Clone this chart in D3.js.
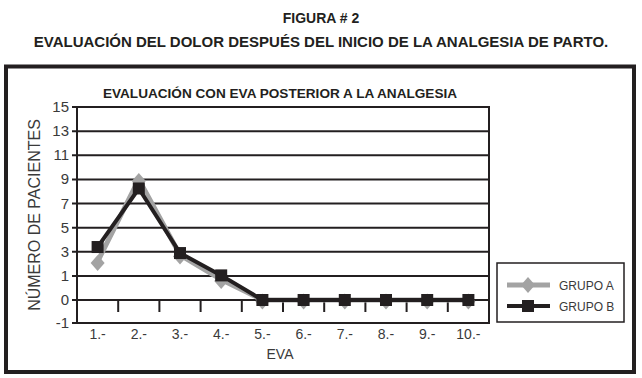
<!DOCTYPE html>
<html><head><meta charset="utf-8">
<script src="https://cdn.jsdelivr.net/npm/d3@7"></script>
<style>body{margin:0;background:#fff}svg{display:block;font-family:"Liberation Sans",Arial,sans-serif}</style>
</head><body><svg id="c" width="642" height="378"></svg>
<script>
const categories = ["1.-","2.-","3.-","4.-","5.-","6.-","7.-","8.-","9.-","10.-"];
const grupoA = [2.2, 9, 2.75, 0.85, 0, 0, 0, 0, 0, 0];
const grupoB = [3.4, 8.25, 2.9, 1.05, 0, 0, 0, 0, 0, 0];
const yTicks = [15, 13, 11, 9, 7, 5, 3, 1, 0, -1];
const seriesNames = ["GRUPO A", "GRUPO B"];

const svg = d3.select("#c");
const ink = "#231f20", gray = "#a3a3a3";
const L = 77, R = 489, T = 107, B = 323;

svg.append("text").attr("x", 321).attr("y", 23).attr("text-anchor","middle")
  .attr("font-weight","bold").attr("font-size",14).attr("fill",ink).text("FIGURA # 2");
svg.append("text").attr("x", 321).attr("y", 47).attr("text-anchor","middle")
  .attr("font-weight","bold").attr("font-size",15).attr("fill",ink)
  .text("EVALUACIÓN DEL DOLOR DESPUÉS DEL INICIO DE LA ANALGESIA DE PARTO.");

svg.append("rect").attr("x",6).attr("y",66.5).attr("width",628).attr("height",305.5)
  .attr("fill","none").attr("stroke",ink).attr("stroke-width",4);

svg.append("text").attr("x", 280).attr("y", 98).attr("text-anchor","middle")
  .attr("font-weight","bold").attr("font-size",13.6).attr("fill",ink)
  .text("EVALUACIÓN CON EVA POSTERIOR A LA ANALGESIA");

const x = d3.scaleBand().domain(categories).range([L, R]);
const y = d3.scaleLinear().domain([-1, 0, 1, 15]).range([B, 300, 276, T]);

// gridlines
svg.append("g").selectAll("line").data(yTicks).join("line")
  .attr("x1", L - 5).attr("x2", R).attr("y1", d => y(d)).attr("y2", d => y(d))
  .attr("stroke", ink).attr("stroke-width", 2);
// axes frame
svg.append("line").attr("x1",L).attr("x2",L).attr("y1",T-1).attr("y2",B+1).attr("stroke",ink).attr("stroke-width",2);
svg.append("line").attr("x1",R).attr("x2",R).attr("y1",T-1).attr("y2",B+1).attr("stroke",ink).attr("stroke-width",2);
// y labels
svg.append("g").selectAll("text").data(yTicks).join("text")
  .attr("x", L - 8).attr("y", d => y(d) + 5).attr("text-anchor","end")
  .attr("font-size",15).attr("fill","#3a3a3a").text(d => d);
// x tick marks between categories
svg.append("g").selectAll("line").data(categories.slice(1)).join("line")
  .attr("x1", d => x(d)).attr("x2", d => x(d)).attr("y1", y(0)).attr("y2", y(0) + 12)
  .attr("stroke", ink).attr("stroke-width", 2);
// x labels
svg.append("g").selectAll("text").data(categories).join("text")
  .attr("x", d => x(d) + x.bandwidth()/2).attr("y", 339).attr("text-anchor","middle")
  .attr("font-size",14).attr("fill","#3a3a3a").text(d => d);
svg.append("text").attr("x", 280).attr("y", 359).attr("text-anchor","middle")
  .attr("font-size",14).attr("fill","#3a3a3a").text("EVA");
svg.append("text").attr("transform","translate(40,215) rotate(-90)").attr("text-anchor","middle")
  .attr("font-size",16).attr("fill","#3a3a3a").text("NÚMERO DE PACIENTES");

const cx = (d,i) => x(categories[i]) + x.bandwidth()/2;
const line = d3.line().x((d,i) => cx(d,i)).y(d => y(d));

svg.append("path").datum(grupoA).attr("d", line).attr("fill","none")
  .attr("stroke", gray).attr("stroke-width", 5);
svg.append("g").selectAll("path").data(grupoA).join("path")
  .attr("transform",(d,i)=>`translate(${cx(d,i)},${y(d)+1.5})`)
  .attr("d","M0,-8L7,0L0,8L-7,0Z").attr("fill",gray);

svg.append("path").datum(grupoB).attr("d", line).attr("fill","none")
  .attr("stroke", ink).attr("stroke-width", 4);
svg.append("g").selectAll("rect").data(grupoB).join("rect")
  .attr("x",(d,i)=>cx(d,i)-6).attr("y",d=>y(d)-6).attr("width",12).attr("height",12).attr("fill",ink);

// legend
const lg = svg.append("g");
lg.append("rect").attr("x",497).attr("y",263).attr("width",127).attr("height",59)
  .attr("fill","#fff").attr("stroke",ink).attr("stroke-width",1.5);
const ly = [285, 306];
lg.append("line").attr("x1",507).attr("x2",550).attr("y1",ly[0]).attr("y2",ly[0]).attr("stroke",gray).attr("stroke-width",5);
lg.append("path").attr("transform",`translate(528,${ly[0]})`).attr("d","M0,-8L7,0L0,8L-7,0Z").attr("fill",gray);
lg.append("line").attr("x1",507).attr("x2",550).attr("y1",ly[1]).attr("y2",ly[1]).attr("stroke",ink).attr("stroke-width",4);
lg.append("rect").attr("x",522).attr("y",ly[1]-6).attr("width",12).attr("height",12).attr("fill",ink);
lg.selectAll("text").data(seriesNames).join("text")
  .attr("x",559).attr("y",(d,i)=>ly[i]+5).attr("font-size",12).attr("fill","#3a3a3a").text(d=>d);
</script></body></html>
